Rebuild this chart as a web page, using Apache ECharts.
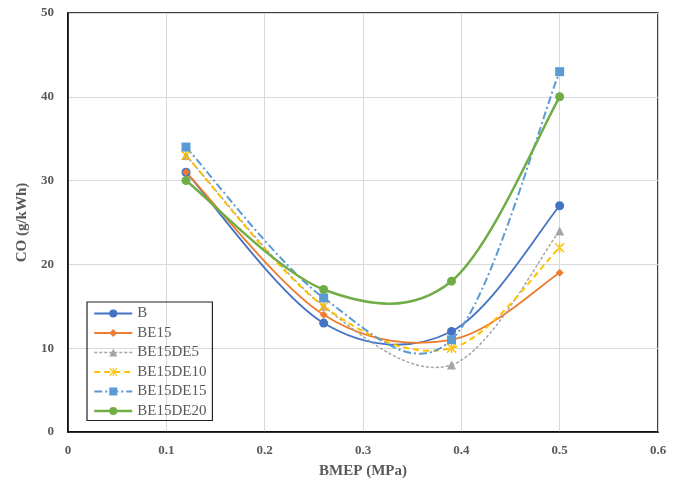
<!DOCTYPE html>
<html><head><meta charset="utf-8">
<script src="https://cdn.jsdelivr.net/npm/echarts@6/dist/echarts.min.js"></script>
<style>html,body{margin:0;padding:0;background:#fff}#c{width:688px;height:484px}</style>
</head><body><div id="c"></div>
<script>
const xValues = [0.12, 0.26, 0.39, 0.5];
const seriesNames = ['B', 'BE15', 'BE15DE5', 'BE15DE10', 'BE15DE15', 'BE15DE20'];
const B = [31, 13, 12, 27];
const BE15 = [31, 14, 11, 19];
const BE15DE5 = [33, 15, 8, 24];
const BE15DE10 = [33, 15, 10, 22];
const BE15DE15 = [34, 16, 11, 43];
const BE15DE20 = [30, 17, 18, 40];
const xTicks = [0, 0.1, 0.2, 0.3, 0.4, 0.5, 0.6];
const yTicks = [0, 10, 20, 30, 40, 50];

const values = [B, BE15, BE15DE5, BE15DE10, BE15DE15, BE15DE20];
const colors = ['#4472C4', '#ED7D31', '#A5A5A5', '#FFC000', '#5B9BD5', '#70AD47'];
const star = 'path://M0,1 L1,0 L10,9 L9,10 Z M10,1 L9,0 L0,9 L1,10 Z M4.3,0 L5.7,0 L5.7,10 L4.3,10 Z';
const symbols = ['circle', 'diamond', 'triangle', star, 'rect', 'circle'];
const sizes = [9, 8, 9, 10, 9, 9];
const lineTypes = ['solid', 'solid', [3, 2], [6, 4], [8, 3, 2, 3], 'solid'];
const widths = [1.8, 1.8, 1.5, 2, 2, 2.5];
const font = 'Liberation Serif';

// Excel-like smoothed curve (Catmull-Rom bezier) drawn in pixel space via api.coord
function curveRenderer(k) {
  return function (params, api) {
    if (params.dataIndex !== 0) return null;
    const pts = xValues.map((x, j) => api.coord([x, values[k][j]]));
    const children = [];
    for (let i = 0; i < pts.length - 1; i++) {
      const p0 = pts[i - 1] || pts[i], p1 = pts[i], p2 = pts[i + 1], p3 = pts[i + 2] || pts[i + 1];
      children.push({
        type: 'bezierCurve',
        shape: {
          x1: p1[0], y1: p1[1], x2: p2[0], y2: p2[1],
          cpx1: p1[0] + (p2[0] - p0[0]) / 6, cpy1: p1[1] + (p2[1] - p0[1]) / 6,
          cpx2: p2[0] - (p3[0] - p1[0]) / 6, cpy2: p2[1] - (p3[1] - p1[1]) / 6
        },
        style: {fill: null, stroke: colors[k], lineWidth: widths[k],
          lineDash: Array.isArray(lineTypes[k]) ? lineTypes[k] : null}
      });
    }
    return {type: 'group', children: children};
  };
}

const curveSeries = seriesNames.map((n, k) => ({
  name: n + ' curve', type: 'custom', renderItem: curveRenderer(k),
  data: xValues.map((x, j) => [x, values[k][j]]), encode: {x: 0, y: 1},
  silent: true, z: 2 + k
}));
const markerSeries = seriesNames.map((n, i) => ({
  name: n, type: 'line',
  data: xValues.map((x, j) => [x, values[i][j]]),
  symbol: symbols[i], symbolSize: sizes[i], showSymbol: true,
  itemStyle: {color: colors[i]},
  lineStyle: {color: 'rgba(0,0,0,0)', width: widths[i], type: lineTypes[i]},
  z: 10 + i
}));

const chart = echarts.init(document.getElementById('c'));
chart.setOption({
  animation: false,
  grid: {left: 68, right: 30, top: 13, bottom: 52, show: true, borderColor: '#000', borderWidth: 1.5, containLabel: false},
  legend: {
    orient: 'vertical', left: 87, top: 302, width: 126,
    borderColor: '#222', borderWidth: 1.2, padding: [4, 6, 2, 6],
    itemWidth: 38, itemHeight: 10, itemGap: 4.5,
    textStyle: {fontFamily: font, fontSize: 15, color: '#595959'},
    data: seriesNames.map((n, i) => ({
      name: n,
      itemStyle: {color: colors[i]},
      lineStyle: {color: colors[i], width: widths[i], type: lineTypes[i], opacity: 1}
    }))
  },
  xAxis: {
    type: 'value', min: 0, max: 0.6, interval: 0.1,
    name: 'BMEP (MPa)', nameLocation: 'middle', nameGap: 32,
    nameTextStyle: {fontFamily: font, fontSize: 15, fontWeight: 'bold', color: '#595959'},
    axisLine: {show: true, lineStyle: {color: '#000', width: 1.5}},
    axisTick: {show: false},
    axisLabel: {fontFamily: font, fontSize: 13, fontWeight: 'bold', color: '#595959', margin: 12,
      formatter: v => { const t = xTicks.find(x => Math.abs(x - v) < 1e-9); return t === undefined ? '' : String(t); }},
    splitLine: {show: true, lineStyle: {color: '#D9D9D9', width: 1}}
  },
  yAxis: {
    type: 'value', min: 0, max: 50, interval: 10,
    name: 'CO (g/kWh)', nameLocation: 'middle', nameGap: 38,
    nameTextStyle: {fontFamily: font, fontSize: 15, fontWeight: 'bold', color: '#595959'},
    axisLine: {show: true, lineStyle: {color: '#000', width: 1.5}},
    axisTick: {show: false},
    axisLabel: {fontFamily: font, fontSize: 13, fontWeight: 'bold', color: '#595959', margin: 14,
      formatter: v => { const t = yTicks.find(y => Math.abs(y - v) < 1e-9); return t === undefined ? '' : String(t); }},
    splitLine: {show: true, lineStyle: {color: '#D9D9D9', width: 1}}
  },
  series: curveSeries.concat(markerSeries)
});
</script></body></html>
